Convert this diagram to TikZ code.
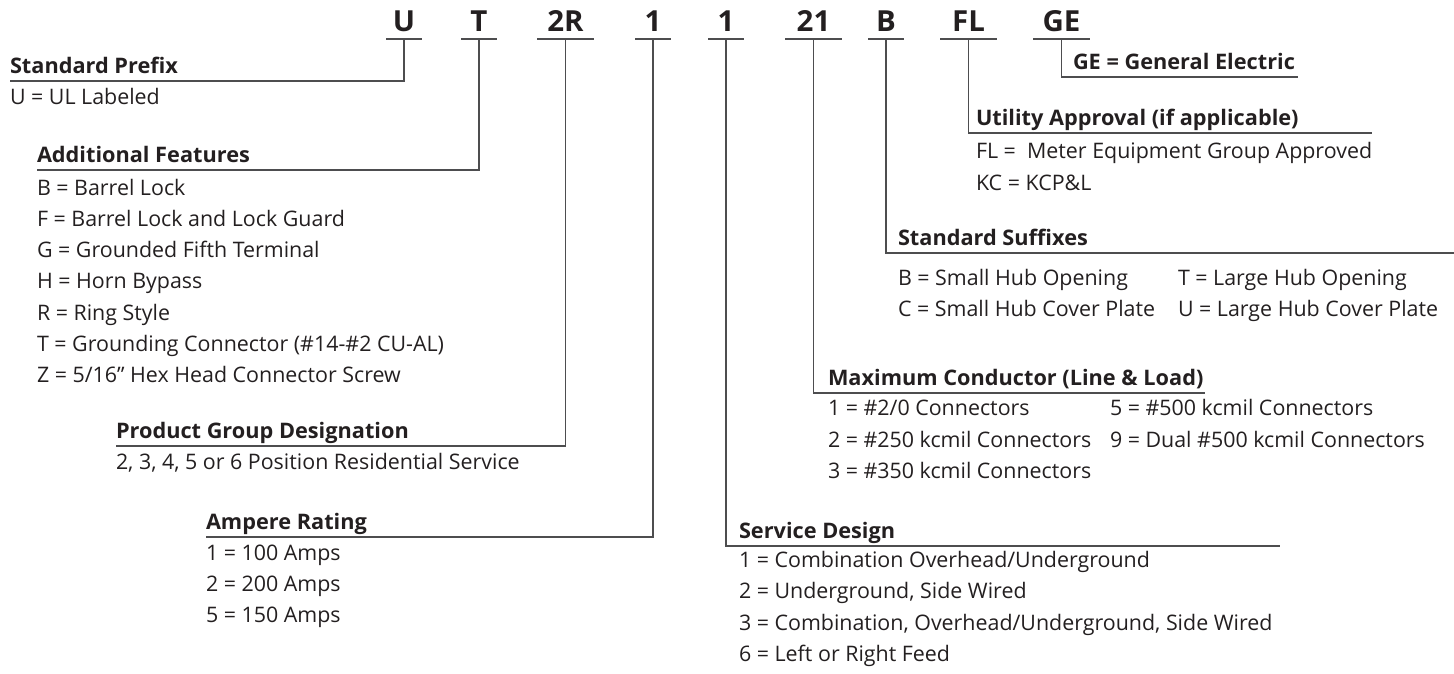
\documentclass[tikz,border=0pt]{standalone}
\usepackage{fontspec}
\setmainfont{Open Sans}[BoldFeatures={FakeStretch=1.015}]
\usetikzlibrary{calc}
\definecolor{ink}{HTML}{231F20}
\definecolor{rulec}{HTML}{4D4D4F}
\tikzset{
  base/.style={inner sep=0pt, outer sep=0pt, text=ink, font=\fontsize{21.4}{25}\selectfont},
  item/.style={base, anchor=base west},
  head/.style={base, anchor=base west, font=\fontsize{21.4}{25}\selectfont\bfseries, text depth=8pt},
  code/.style={inner sep=0pt, outer sep=0pt, text=ink, anchor=base, font=\fontsize{29}{33}\selectfont\bfseries, text height=21pt, text depth=8pt},
  one/.style={code, minimum width=36pt},
  two/.style={code, minimum width=57pt},
  rule/.style={draw=rulec, line width=1.5pt},
}
\begin{document}
\begin{tikzpicture}[x=1pt,y=-1pt]
\useasboundingbox (0,0) rectangle (1454,673);
% codes
\node[one] (cU)  at (404,31) {U};
\node[one] (cT)  at (479,31) {T};
\node[two] (c2R) at (565.5,31) {2R};
\node[one] (c1a) at (653,31) {1};
\node[one] (c1b) at (726,31) {1};
\node[two] (c21) at (813.5,31) {21};
\node[one] (cB)  at (886,31) {B};
\node[two] (cFL) at (968.5,31) {FL};
\node[two] (cGE) at (1061.5,31) {GE};
\foreach \n in {cU,cT,c2R,c1a,c1b,c21,cB,cFL,cGE}
  \draw[rule] (\n.south west) -- (\n.south east);

% left groups
\node[head] (hPre) at (10,73) {Standard Prefix};
\node[item] (iPre) at (10,104) {U = UL Labeled};
\draw[rule] (cU.south) |- (hPre.south west);

\node[head] (hFea) at (37,162) {Additional Features};
\node[item] (iF1) at (37,195) {B = Barrel Lock};
\node[item] (iF2) at (37,226.3) {F = Barrel Lock and Lock Guard};
\node[item] (iF3) at (37,257.6) {G = Grounded Fifth Terminal};
\node[item] (iF4) at (37,288.9) {H = Horn Bypass};
\node[item] (iF5) at (37,320.2) {R = Ring Style};
\node[item] (iF6) at (37,351.5) {T = Grounding Connector (\#14-\#2 CU-AL)};
\node[item] (iF7) at (37,382.8) {Z = 5/16” Hex Head Connector Screw};
\draw[rule] (cT.south) |- (hFea.south west);

\node[head] (hPrd) at (116,438) {Product Group Designation};
\node[item] (iPrd) at (116,469) {2, 3, 4, 5 or 6 Position Residential Service};
\draw[rule] (c2R.south) |- (hPrd.south west);

\node[head] (hAmp) at (206,529) {Ampere Rating};
\node[item] (iA1) at (206,560) {1 = 100 Amps};
\node[item] (iA2) at (206,591) {2 = 200 Amps};
\node[item] (iA3) at (206,622) {5 = 150 Amps};
\draw[rule] (c1a.south) |- (hAmp.south west);

% right groups
\node[head] (hGE) at (1073,69) {GE = General Electric};
\coordinate (eGE) at ($(hGE.south east)+(3,0)$);
\draw[rule] (cGE.south) |- (eGE);

\node[head] (hUti) at (976,125) {Utility Approval (if applicable)};
\node[item] (iU1) at (976,158) {FL = \ Meter Equipment Group Approved};
\node[item] (iU2) at (976,190) {KC = KCP\&L};
\coordinate (eUti) at (hUti.south -| iU1.east);
\draw[rule] (cFL.south) |- (eUti);

\node[head] (hSuf) at (898,245) {Standard Suffixes};
\coordinate (eSuf) at (1454,253);
\node[item] (iS1) at (898,285) {B = Small Hub Opening};
\node[item] (iS2) at (898,316) {C = Small Hub Cover Plate};
\node[item] (iS3) at (1178,285) {T = Large Hub Opening};
\node[item] (iS4) at (1178,316) {U = Large Hub Cover Plate};
\draw[rule] (cB.south) |- (eSuf);

\node[head] (hMax) at (828,385) {Maximum Conductor (Line \& Load)};
\coordinate (eMax) at ($(hMax.south east)+(2,0)$);
\node[item] (iM1) at (828,415) {1 = \#2/0 Connectors};
\node[item] (iM2) at (828,447) {2 = \#250 kcmil Connectors};
\node[item] (iM3) at (828,478) {3 = \#350 kcmil Connectors};
\node[item] (iM4) at (1110,415) {5 = \#500 kcmil Connectors};
\node[item] (iM5) at (1110,447) {9 = Dual \#500 kcmil Connectors};
\draw[rule] (c21.south) |- (eMax);

\node[head] (hSvc) at (739,538) {Service Design};
\node[item] (iD1) at (739,567) {1 = Combination Overhead/Underground};
\node[item] (iD2) at (739,598) {2 = Underground, Side Wired};
\node[item] (iD3) at (739,630) {3 = Combination, Overhead/Underground, Side Wired};
\node[item] (iD4) at (739,661) {6 = Left or Right Feed};
\coordinate (eSvc) at ($(hSvc.south -| iD3.east)+(8,0)$);
\draw[rule] (c1b.south) |- (eSvc);
\end{tikzpicture}
\end{document}
